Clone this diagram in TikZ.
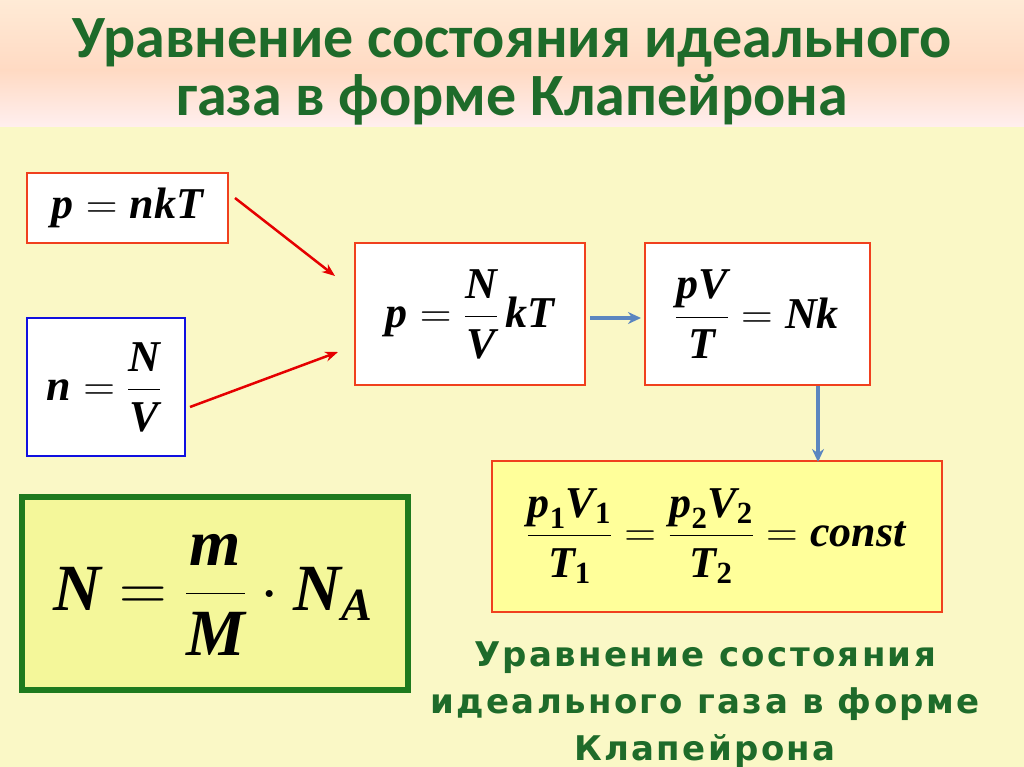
\RequirePackage{fix-cm}
\documentclass[tikz,border=0pt]{standalone}
\usepackage{fontspec}
\usepackage{amsmath}
\setmainfont{Liberation Serif}
\newfontfamily\titlefont{Carlito}
\newfontfamily\capfont[LetterSpace=7]{DejaVu Sans}
\newcommand{\bi}[1]{\text{\bfseries\itshape #1}}
\newcommand{\br}[1]{\text{\bfseries #1}}
\definecolor{bg}{HTML}{FAF8C6}
\definecolor{tgreen}{HTML}{1E6B2A}
\definecolor{bred}{HTML}{F0401E}
\definecolor{bblue}{HTML}{1010E0}
\definecolor{bgreen}{HTML}{1E7A1E}
\definecolor{fillA}{HTML}{FFFF9A}
\definecolor{fillB}{HTML}{F4F79A}
\definecolor{arrblue}{HTML}{5B86C0}
\usetikzlibrary{arrows.meta}
\tikzset{
 rbox/.style={draw=bred,line width=2.5pt,fill=white},
 rarr/.style={draw=red!90!black,line width=2.5pt,-{Stealth[length=13pt,width=10pt]}},
 barr/.style={draw=arrblue,line width=3.5pt,-{Stealth[length=13pt,width=12pt]}},
 fml/.style={font=\fontsize{44}{48}\selectfont},
}
\begin{document}
\begin{tikzpicture}[x=1pt,y=-1pt]
\useasboundingbox (0,0) rectangle (1024,767);
\fill[bg] (0,0) rectangle (1024,767);
\shade[top color=white!60!orange!40, bottom color=orange!45!pink!40] (0,0) rectangle (1024,70);
\shade[top color=orange!45!pink!40, bottom color=pink!25] (0,70) rectangle (1024,127);
\node[font=\titlefont\bfseries\fontsize{60}{58}\selectfont,text=tgreen,align=center] (title) at (512,72) {Уравнение состояния идеального\\газа в форме Клапейрона};
% boxes
\draw[rbox] (27,173) rectangle (228,243);
\node[fml] (b1) at (127.5,208) {$\bi{p}=\bi{nkT}$};
\draw[draw=bblue,line width=2.5pt,fill=white] (27,318) rectangle (185,456);
\node[fml] (b2) at (104,387) {$\bi{n}=\dfrac{\bi{N}}{\bi{V}}$};
\draw[rbox] (355,243) rectangle (585,385);
\node[fml] (b3) at (470,314) {$\bi{p}=\dfrac{\bi{N}}{\bi{V}}\,\bi{kT}$};
\draw[rbox] (645,243) rectangle (870,385);
\node[fml] (b4) at (757,314) {$\dfrac{\bi{pV}}{\bi{T}}=\bi{Nk}$};
\draw[draw=bred,line width=2.5pt,fill=fillA] (492,461) rectangle (942,612);
\node[fml] (b5) at (716,536) {$\dfrac{\bi{p}_{\br{1}}\bi{V}_{\br{1}}}{\bi{T}_{\br{1}}}=\dfrac{\bi{p}_{\br{2}}\bi{V}_{\br{2}}}{\bi{T}_{\br{2}}}=\bi{const}$};
\draw[draw=bgreen,line width=6pt,fill=fillB] (22,497) rectangle (408,690);
\node[font=\fontsize{66}{70}\selectfont] (b6) at (213,595) {$\bi{N}=\dfrac{\bi{m}}{\bi{M}}\cdot\bi{N}_{\bi{A}}$};
% arrows
\coordinate (a1s) at (235,198); \coordinate (a1e) at (335,276);
\coordinate (a2s) at (190,407); \coordinate (a2e) at (338,352);
\draw[rarr] (a1s) -- (a1e);
\draw[rarr] (a2s) -- (a2e);
\draw[barr] (590,318) -- (641,318);
\draw[barr] (818,386) -- (818,462);
\node[font=\capfont\bfseries\fontsize{34}{47}\selectfont,text=tgreen,align=center] (cap) at (705,705) {Уравнение состояния\\идеального газа в форме\\Клапейрона};
\end{tikzpicture}
\end{document}
